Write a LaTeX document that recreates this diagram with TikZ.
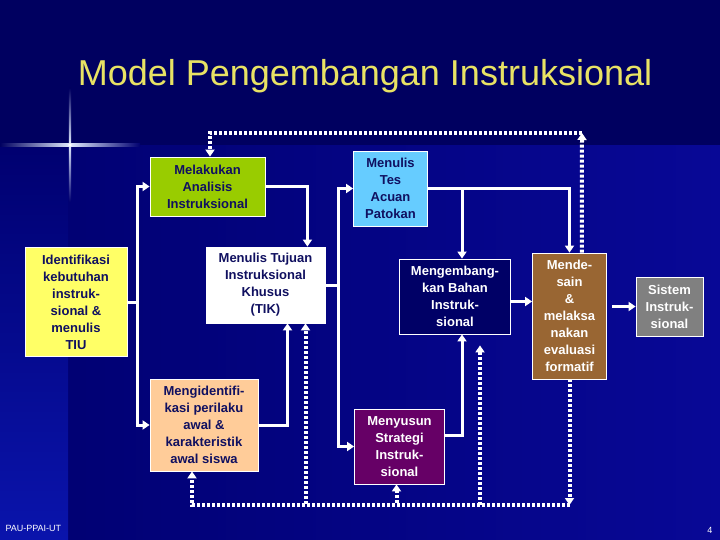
\documentclass[tikz,border=0pt]{standalone}
\usepackage{fontspec}
\setmainfont{Liberation Sans}
\usepackage{xcolor}
\usepackage{tikz}
\usetikzlibrary{arrows.meta, calc}
\definecolor{slidebg}{RGB}{0,0,112}
\definecolor{slideright}{RGB}{8,8,150}
\definecolor{topbg}{RGB}{0,0,96}
\definecolor{stripbg}{RGB}{10,20,172}
\definecolor{flare}{RGB}{225,235,255}
\definecolor{titleyellow}{RGB}{232,226,100}
\definecolor{boxtext}{RGB}{16,16,96}
\definecolor{identfill}{RGB}{255,255,102}
\definecolor{analisfill}{RGB}{153,204,0}
\definecolor{perilakufill}{RGB}{255,204,153}
\definecolor{tesfill}{RGB}{102,204,255}
\definecolor{bahanfill}{RGB}{0,0,102}
\definecolor{strategifill}{RGB}{102,0,102}
\definecolor{evaluasifill}{RGB}{153,102,51}
\definecolor{sistemfill}{RGB}{128,128,128}

\begin{document}
\begin{tikzpicture}[x=1pt, y=-1pt,
    box/.style={draw=white, line width=0.8pt, inner sep=0pt, align=center,
        font=\fontsize{13}{17}\selectfont\bfseries},
    lightbox/.style={box, text=boxtext},
    darkbox/.style={box, text=white},
    flow/.style={draw=white, line width=3pt, line join=miter,
        -{Triangle[length=7pt,width=9pt]}},
    fback/.style={draw=white, line width=4pt, dash pattern=on 3pt off 2pt,
        -{Triangle[length=7pt,width=9pt]}}]

    % background of the slide
    \useasboundingbox (0,0) rectangle (720,540);
    \shade[left color=slidebg, right color=slideright] (0,0) rectangle (720,540);
    \fill[topbg] (0,0) rectangle (720,145);
    \shade[top color=slidebg, bottom color=stripbg] (0,145) rectangle (68,540);
    \shade[left color=topbg, right color=slidebg, middle color=flare] (0,143.8) rectangle (140,146.2);
    \shade[top color=topbg, bottom color=slidebg, middle color=flare] (68.8,88) rectangle (71.2,202);
    \fill[white] (70,145) circle (1.8);

    \node[font=\fontsize{36}{40}\selectfont, text=titleyellow] (title) at (365,76) {Model Pengembangan Instruksional};

    % boxes
    \node[lightbox, fill=identfill, minimum width=102pt, minimum height=109pt] (ident) at (76,302)
        {Identifikasi\\kebutuhan\\instruk-\\sional \&\\menulis\\TIU};
    \node[lightbox, fill=analisfill, minimum width=115pt, minimum height=59pt] (analisis) at (207.5,186.5)
        {Melakukan\\Analisis\\Instruksional};
    \node[lightbox, fill=white, minimum width=119pt, minimum height=76pt] (tik) at (265.5,285)
        {Menulis Tujuan\\Instruksional\\Khusus\\(TIK)};
    \node[lightbox, fill=perilakufill, minimum width=108pt, minimum height=92pt] (perilaku) at (204,425)
        {Mengidentifi-\\kasi perilaku\\awal \&\\karakteristik\\awal siswa};
    \node[lightbox, fill=tesfill, minimum width=74pt, minimum height=75pt] (tes) at (390.5,188.5)
        {Menulis\\Tes\\Acuan\\Patokan};
    \node[darkbox, fill=bahanfill, minimum width=111pt, minimum height=75pt] (bahan) at (455,296.5)
        {Mengembang-\\kan Bahan\\Instruk-\\sional};
    \node[darkbox, fill=strategifill, minimum width=90pt, minimum height=75pt] (strategi) at (399.5,446.5)
        {Menyusun\\Strategi\\Instruk-\\sional};
    \node[darkbox, fill=evaluasifill, minimum width=74pt, minimum height=126pt] (evaluasi) at (569.5,316)
        {Mende-\\sain\\\&\\melaksa\\nakan\\evaluasi\\formatif};
    \node[darkbox, fill=sistemfill, minimum width=67pt, minimum height=59pt] (sistem) at (669.5,306.5)
        {Sistem\\Instruk-\\sional};

    % main flow
    \draw[flow] (ident.east) -- ++(10,0) |- (analisis.west);
    \draw[flow] (ident.east) -- ++(10,0) |- (perilaku.west);
    \draw[flow] (analisis.east) -| ([xshift=-18pt]tik.north east);
    \draw[flow] (perilaku.east) -| ([xshift=22pt]tik.south);
    \draw[flow] (tik.east) -- ++(13,0) |- (tes.west);
    \draw[flow] (tik.east) -- ++(13,0) |- (strategi.west);
    \draw[flow] (tes.east) -| ([xshift=7pt]bahan.north);
    \draw[flow] (tes.east) -| (evaluasi.north);
    \draw[flow] ([yshift=11pt]strategi.east) -| ([xshift=7pt]bahan.south);
    \draw[flow] ([yshift=-5pt]bahan.east) -- ([yshift=-5pt]bahan.east -| evaluasi.west);
    \draw[flow] ([xshift=5pt]evaluasi.east |- sistem.west) -- (sistem.west);

    % revision loops
    \coordinate (fbtop) at (582,133);
    \coordinate (fbbot) at (569.5,505);
    \draw[fback] ([xshift=-25pt]evaluasi.north east) -- (fbtop);
    \draw[fback] (fbtop) -| ([xshift=2.5pt]analisis.north);
    \draw[fback] (evaluasi.south) -- (fbbot);
    \draw[fback] (fbbot) -| ([xshift=-12pt]perilaku.south);
    \draw[fback] (fbbot) -| ([xshift=40pt]tik.south);
    \draw[fback] (fbbot) -| ([xshift=-3pt]strategi.south);
    \draw[fback] (fbbot) -| ([xshift=25pt,yshift=-11pt]bahan.south);

    \node[font=\fontsize{9}{10}\selectfont, text=white, anchor=west] (footer) at (2,528) {PAU-PPAI-UT};
    \node[font=\fontsize{9}{10}\selectfont, text=white, anchor=east] (pagenum) at (716,530) {4};
\end{tikzpicture}
\end{document}
